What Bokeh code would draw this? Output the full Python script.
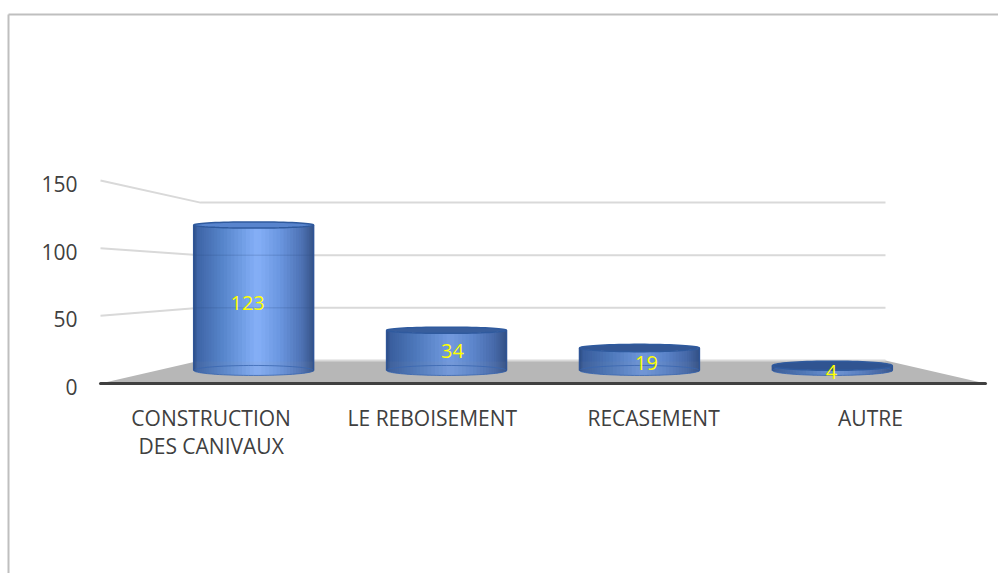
import numpy as np
from bokeh.plotting import figure
from bokeh.models import Range1d, LinearAxis, FixedTicker, ColumnDataSource
from bokeh.core.properties import value
from bokeh.embed import file_html
from bokeh.resources import INLINE

categories = ["CONSTRUCTION\nDES CANIVAUX", "LE REBOISEMENT", "RECASEMENT", "AUTRE"]
counts = [123, 34, 19, 4]
y_ticks = [0, 50, 100, 150]

W, H = 998, 573
PAGE_L, PAGE_T = 0, 0
XU = 221.25   # px per category on the front plane
YU = 1.353    # px per unit on the front plane
X0, Y0 = 100, 383   # px of the front-left floor corner
SHRINK_X, SHRINK_Y = 0.226, 0.222
RISE = 23 / YU
BAR_DEPTH = 0.567
RADIUS = 0.271
FONT = value("Open Sans")

x_start = (PAGE_L - X0) / XU
x_end = (PAGE_L + W - X0) / XU
y_end = (Y0 - PAGE_T) / YU
y_start = (Y0 - PAGE_T - H) / YU


def proj_x(x, d):
    return 2 + (np.asarray(x, float) - 2) * (1 - SHRINK_X * d)


def proj_y(v, d):
    return np.asarray(v, float) * (1 - SHRINK_Y * d) + RISE * d


def mix(a, b, t):
    return tuple(a[i] + (b[i] - a[i]) * t for i in range(3))


def to_hex(c):
    return "#%02x%02x%02x" % tuple(int(round(max(0, min(255, k)))) for k in c)


STOPS = [(0.0, (44, 76, 128)), (0.03, (62, 100, 166)), (0.25, (88, 134, 204)), (0.46, (122, 166, 238)),
         (0.53, (134, 176, 247)), (0.72, (106, 150, 224)), (0.9, (78, 114, 180)), (1.0, (54, 84, 136))]


def shade(t):
    return tuple(np.interp(t, [s[0] for s in STOPS], [s[1][k] for s in STOPS]) for k in range(3))


p = figure(width=W, height=H, x_range=Range1d(x_start, x_end), y_range=Range1d(y_start, y_end),
           x_axis_type=None, y_axis_type=None, toolbar_location=None, output_backend="svg",
           min_border=0, outline_line_color=None, background_fill_color="white",
           border_fill_color="white")
p.grid.visible = False
p.extra_y_ranges["labels"] = Range1d(y_start + 3.5 / YU, y_end + 3.5 / YU)

# picture frame
fx = x_start + 8 / XU
fy = y_end - 14 / YU
p.line([fx, fx], [y_start, fy], line_color="#bfbfbf", line_width=2)
p.line([fx, x_end], [fy, fy], line_color="#bfbfbf", line_width=2)

# floor
fd = np.array([0, 0, 1, 1])
p.patch(proj_x([0, 4, 4, 0], fd), proj_y(0, fd), fill_color="#b7b7b7", line_color=None)

# walls' grid lines
for tick in y_ticks:
    if tick == 0:
        xs = proj_x([0, 4], 1)
        ys = [proj_y(0, 1)] * 2
    else:
        xs = np.array([proj_x(0, 0), proj_x(0, 1), proj_x(4, 1)])
        ys = np.array([proj_y(tick, 0), proj_y(tick, 1), proj_y(tick, 1)])
    p.line(xs, ys, line_color="#d9d9d9", line_width=2)

# cylinders
N = 48
theta = np.linspace(np.pi, 0, N + 1)
floor_back = float(proj_y(0, 1))
full = np.linspace(0, 2 * np.pi, 73)
for i, v in enumerate(counts):
    cx = float(proj_x(i + 0.5, BAR_DEPTH))
    base = float(proj_y(0, BAR_DEPTH))
    top = float(proj_y(v, BAR_DEPTH))
    hb = 5 / YU
    ht = max(3.1, 4.8 - 0.06 * v) / YU
    ex = cx + RADIUS * np.cos(theta)
    short = 1 - min(v, 123) / 123
    xs_, ys_, cols = [], [], []
    overlap = 1.2 / XU
    seam = 1.0 / YU
    for k in range(N):
        x0, x1 = ex[k], ex[k + 1]
        sa, sb = np.sin(theta[k]), np.sin(theta[k + 1])
        x1e = min(x1 + overlap, cx + RADIUS)
        b0, b1 = base - hb * sa, base - hb * sb
        t0, t1 = top - ht * sa, top - ht * sb
        c = shade((0.5 * (x0 + x1) - (cx - RADIUS)) / (2 * RADIUS))
        c = mix(c, (40, 70, 125), 0.28 * short)
        low = to_hex(mix(c, (150, 150, 150), 0.07))
        xs_.append([x0, x1e, x1e, x0])
        ys_.append([b0, b1, min(t1, floor_back), min(t0, floor_back)])
        cols.append(low)
        if max(t0, t1) > floor_back:
            xs_.append([x0, x1e, x1e, x0])
            ys_.append([floor_back - seam, floor_back - seam, max(t1, floor_back), max(t0, floor_back)])
            cols.append(to_hex(c))
    p.patches(xs_, ys_, fill_color=cols, line_color=None)
    # faint grid lines seen through the glass
    for tick in y_ticks[1:]:
        yy = float(proj_y(tick, 1))
        if yy < top:
            p.line([cx - RADIUS, cx + RADIUS], [yy, yy], line_color="#2f4f85", line_width=1.5, line_alpha=0.18)
    # base ellipse seen through
    p.line(cx + RADIUS * np.cos(full), base + hb * np.sin(full), line_color="#3a66b0", line_width=1, line_alpha=0.8)
    # top ellipse
    top_col = to_hex(mix((88, 132, 205), (48, 84, 145), min(1, short * 1.1)))
    p.patch(cx + RADIUS * np.cos(full), top + ht * np.sin(full), fill_color=top_col, line_color="#2f5a9e", line_width=1.5)
    # sides
    p.line([cx - RADIUS, cx - RADIUS], [base, top], line_color="#2f5597", line_width=1.5)
    p.line([cx + RADIUS, cx + RADIUS], [base, top], line_color="#2f5597", line_width=1.5)

# value labels
src = ColumnDataSource(dict(
    x=[float(proj_x(i + 0.5, BAR_DEPTH)) for i in range(4)],
    y=[float(proj_y(v / 2, BAR_DEPTH)) for v in counts],
    t=[str(v) for v in counts],
    dx=[-6, 6, 7, -1],
    dy=[5, 1, 4, 4],
))
p.text("x", "y", text="t", source=src, x_offset="dx", y_offset="dy", text_color="#ffff00",
       text_font=FONT, text_font_size="20px", text_align="center", text_baseline="middle")

# axes
label_ticks = [0.5, 1.5, 2.5, 3.48]
xa = LinearAxis(ticker=FixedTicker(ticks=label_ticks),
                major_label_overrides=dict(zip(label_ticks, categories)),
                fixed_location=0, bounds=(0, 4),
                axis_line_color="#404040", axis_line_width=3, axis_line_cap="round",
                major_tick_line_color=None, minor_tick_line_color=None,
                major_label_standoff=14, major_label_text_font="Open Sans",
                major_label_text_font_size="21px", major_label_text_color="#404040",
                major_label_text_line_height=1.0)
p.add_layout(xa, "below")
ya = LinearAxis(y_range_name="labels", ticker=FixedTicker(ticks=y_ticks),
                fixed_location=(89 - X0) / XU,
                axis_line_color=None, major_tick_line_color=None, minor_tick_line_color=None,
                major_label_standoff=6, major_label_text_font="Open Sans",
                major_label_text_font_size="21px", major_label_text_color="#404040")
p.add_layout(ya, "left")

open("out.html", "w").write(file_html(p, INLINE))
